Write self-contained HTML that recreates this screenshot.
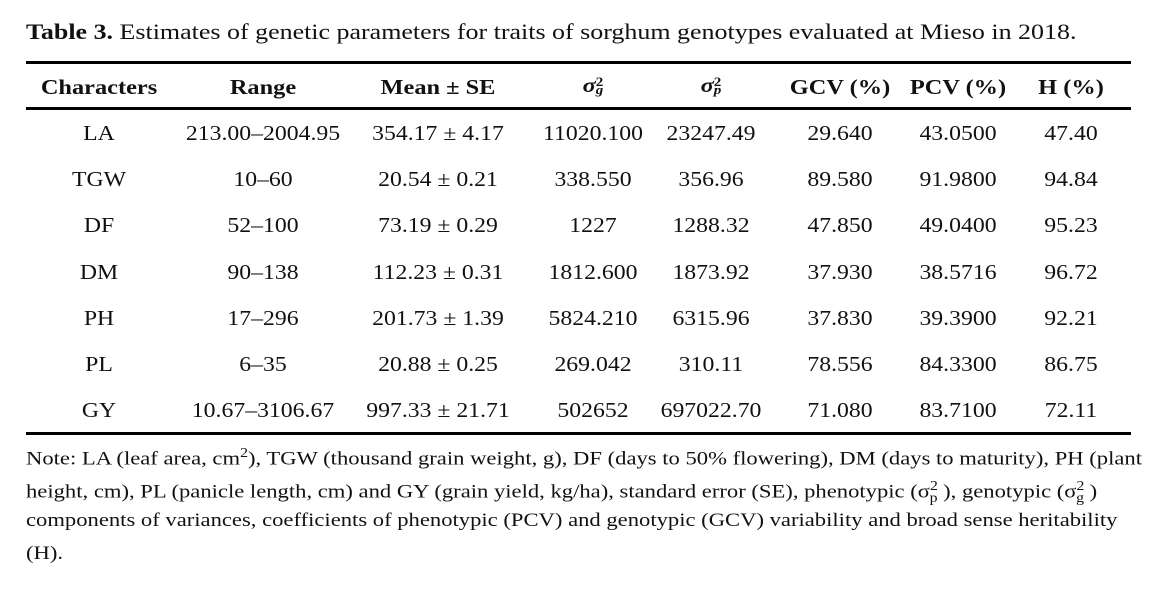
<!DOCTYPE html>
<html><head><meta charset="utf-8"><style>
body{margin:0;background:#fff;width:1166px;height:595px;position:relative;overflow:hidden;font-family:"Liberation Serif","DejaVu Serif",serif;color:#111}
.t{position:absolute;white-space:nowrap;transform-origin:0 0}
.c{position:absolute;transform:translateX(-50%) scaleX(1.13);white-space:nowrap;font-size:21px}
.h{font-weight:bold;transform:translateX(-50%) scaleX(1.16)}
.rule{position:absolute;left:26px;width:1105px;height:2.5px;background:#000}
.n{position:absolute;left:26px;font-size:19px;white-space:nowrap;transform:scaleX(1.19);transform-origin:0 0}
sub,sup{font-size:70%}
</style></head><body>
<div class="t" style="left:26px;top:19px;font-size:22px;transform:scaleX(1.18)"><b>Table 3.</b> Estimates of genetic parameters for traits of sorghum genotypes evaluated at Mieso in 2018.</div>
<div class="rule" style="top:61px"></div>
<div class="rule" style="top:107px"></div>
<div class="rule" style="top:432px"></div>
<div class="c h" style="left:99px;top:75px">Characters</div>
<div class="c h" style="left:263px;top:75px">Range</div>
<div class="c h" style="left:438px;top:75px">Mean ± SE</div>
<div class="c h" style="left:593px;top:73px"><i>σ</i><span style="display:inline-block;vertical-align:-2px;line-height:8px;font-size:13px;text-align:left">2<br><i>g</i></span></div>
<div class="c h" style="left:711px;top:73px"><i>σ</i><span style="display:inline-block;vertical-align:-2px;line-height:8px;font-size:13px;text-align:left">2<br><i>p</i></span></div>
<div class="c h" style="left:840px;top:75px">GCV (%)</div>
<div class="c h" style="left:958px;top:75px">PCV (%)</div>
<div class="c h" style="left:1071px;top:75px">H (%)</div>
<div id="rows"></div>
<script>
var d=[["LA","213.00–2004.95","354.17 ± 4.17","11020.100","23247.49","29.640","43.0500","47.40"],
["TGW","10–60","20.54 ± 0.21","338.550","356.96","89.580","91.9800","94.84"],
["DF","52–100","73.19 ± 0.29","1227","1288.32","47.850","49.0400","95.23"],
["DM","90–138","112.23 ± 0.31","1812.600","1873.92","37.930","38.5716","96.72"],
["PH","17–296","201.73 ± 1.39","5824.210","6315.96","37.830","39.3900","92.21"],
["PL","6–35","20.88 ± 0.25","269.042","310.11","78.556","84.3300","86.75"],
["GY","10.67–3106.67","997.33 ± 21.71","502652","697022.70","71.080","83.7100","72.11"]];
var x=[99,263,438,593,711,840,958,1071],h="";
d.forEach(function(r,i){var y=121+i*46.2;r.forEach(function(v,j){h+='<div class="c" style="left:'+x[j]+'px;top:'+y+'px">'+v+'</div>';});});
document.getElementById("rows").innerHTML=h;
</script>
<div class="n" style="top:445px">Note: LA (leaf area, cm<sup>2</sup>), TGW (thousand grain weight, g), DF (days to 50% flowering), DM (days to maturity), PH (plant</div>
<div class="n" style="top:478px">height, cm), PL (panicle length, cm) and GY (grain yield, kg/ha), standard error (SE), phenotypic (σ<sup>2</sup><sub style="margin-left:-7px">p</sub>&nbsp;), genotypic (σ<sup>2</sup><sub style="margin-left:-7px">g</sub>&nbsp;)</div>
<div class="n" style="top:510px">components of variances, coefficients of phenotypic (PCV) and genotypic (GCV) variability and broad sense heritability</div>
<div class="n" style="top:543px">(H).</div>
</body></html>
